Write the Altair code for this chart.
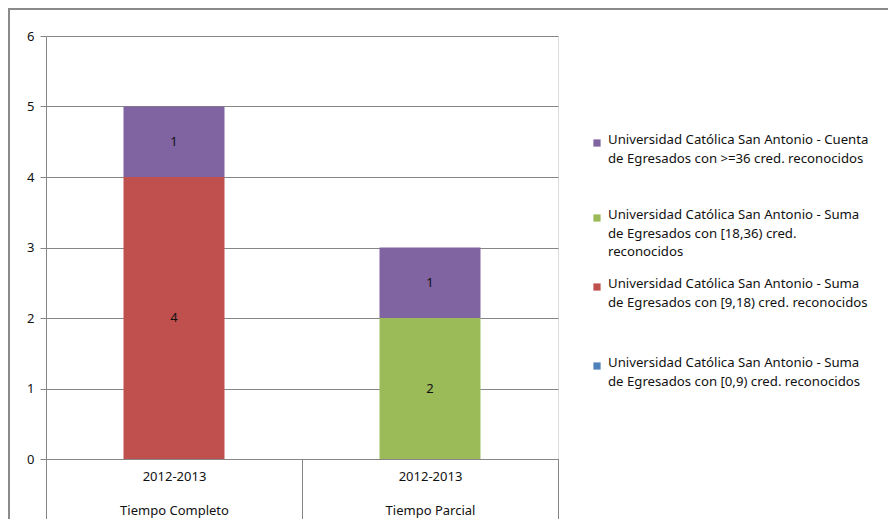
import altair as alt
import pandas as pd

categories = ["Tiempo Completo", "Tiempo Parcial"]
period = "2012-2013"
series = [
    "Universidad Católica San Antonio - Cuenta\nde Egresados con >=36 cred. reconocidos",
    "Universidad Católica San Antonio - Suma\nde Egresados con [18,36) cred.\nreconocidos",
    "Universidad Católica San Antonio - Suma\nde Egresados con [9,18) cred. reconocidos",
    "Universidad Católica San Antonio - Suma\nde Egresados con [0,9) cred. reconocidos",
]
colors = ["#8064A2", "#9BBB59", "#C0504D", "#4F81BD"]
stack_rank = [3, 2, 1, 0]  # bottom-to-top stacking order
values = [
    [1, 1],  # >=36
    [0, 2],  # [18,36)
    [4, 0],  # [9,18)
    [0, 0],  # [0,9)
]

rows = []
for s, name in enumerate(series):
    for c, cat in enumerate(categories):
        rows.append({"cat": cat, "series": name, "value": values[s][c], "rank": stack_rank[s]})
df = pd.DataFrame(rows)

FONT = "Noto Sans"
FS = 13
W, H = 512, 423
GRAY = "#868686"
TXT = "#111111"

xenc = alt.X(
    "cat:N",
    sort=categories,
    scale=alt.Scale(paddingInner=0, paddingOuter=0),
    axis=alt.Axis(
        title=None,
        labelAngle=0,
        tickBand="extent",
        tickSize=64,
        tickColor=GRAY,
        domainColor=GRAY,
        labelExpr=f"datum.label ? ['{period}', datum.label] : ''",
        labelLineHeight=34,
        labelPadding=-53,
        labelBaseline="top",
        labelFont=FONT,
        labelFontSize=FS,
        labelColor=TXT,
    ),
)

bars = alt.Chart(df).transform_filter("datum.value > 0").mark_bar(size=101).encode(
    x=xenc,
    y=alt.Y(
        "value:Q",
        stack="zero",
        scale=alt.Scale(domain=[0, 6]),
        axis=alt.Axis(
            title=None,
            values=[0, 1, 2, 3, 4, 5, 6],
            format="d",
            grid=True,
            gridColor=GRAY,
            domainColor=GRAY,
            tickColor=GRAY,
            tickSize=6,
            labelPadding=6,
            labelFont=FONT,
            labelFontSize=FS,
            labelColor=TXT,
        ),
    ),
    color=alt.Color("series:N", scale=alt.Scale(domain=series, range=colors), legend=None),
    order=alt.Order("rank:Q", sort="ascending"),
)

# midpoint labels via explicit stack transform
seg_labels = alt.Chart(df).transform_filter("datum.value > 0").transform_stack(
    stack="value", groupby=["cat"], as_=["y0", "y1"], sort=[alt.SortField("rank", order="ascending")]
).transform_calculate(mid="(datum.y0 + datum.y1) / 2").mark_text(
    font=FONT, fontSize=FS, color=TXT
).encode(
    x=alt.X("cat:N", sort=categories),
    y=alt.Y("mid:Q"),
    text="value:Q",
)

# custom legend
leg_tops = [134, 209, 278, 357]
leg_rows = []
for i, name in enumerate(series):
    leg_rows.append({"series": name, "ly": leg_tops[i] - 36, "sy": leg_tops[i] - 36 + 9})
leg_df = pd.DataFrame(leg_rows)
LX = 608 - 46

leg_sq = alt.Chart(leg_df).mark_square(size=52, opacity=1).encode(
    x=alt.value(LX - 11),
    y=alt.Y("sy:Q", scale=None),
    color=alt.Color("series:N", scale=alt.Scale(domain=series, range=colors), legend=None),
)
leg_txt = alt.Chart(leg_df).mark_text(
    align="left", baseline="top", lineBreak="\n", lineHeight=18.7,
    font=FONT, fontSize=13.2, color=TXT
).encode(
    x=alt.value(LX),
    y=alt.Y("ly:Q", scale=None),
    text="series:N",
)

border_df = pd.DataFrame({"k": [0]})
border_top = alt.Chart(border_df).mark_rule(color="#8a8a8a", strokeWidth=2).encode(
    x=alt.value(-38), x2=alt.value(842), y=alt.value(-27)
)
border_left = alt.Chart(border_df).mark_rule(color="#8a8a8a", strokeWidth=2).encode(
    x=alt.value(-37), y=alt.value(-28), y2=alt.value(500)
)

chart = alt.layer(bars, seg_labels, leg_sq, leg_txt, border_top, border_left).properties(
    width=W,
    height=H,
    padding={"left": 38, "top": 28, "right": 330, "bottom": 60},
    autosize=alt.AutoSizeParams(type="none"),
).configure_view(stroke=None).configure(background="white")

chart.save("out.html", embed_options={"renderer": "svg", "actions": False})
